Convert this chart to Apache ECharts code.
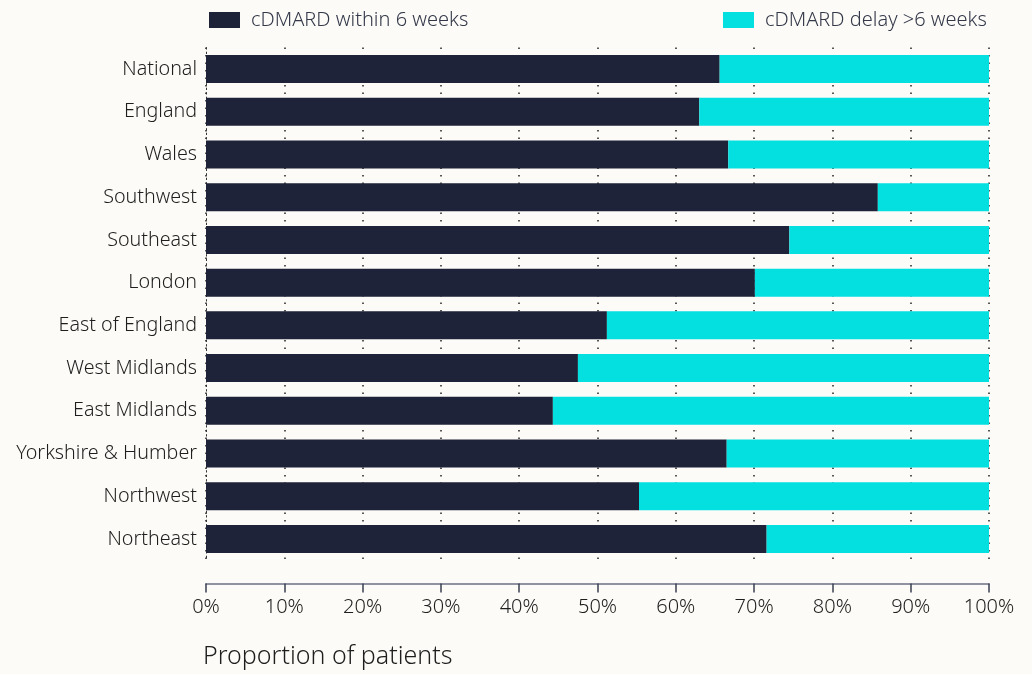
<!DOCTYPE html>
<html>
<head>
<meta charset="utf-8">
<script src="https://cdn.jsdelivr.net/npm/echarts@6/dist/echarts.min.js"></script>
<style>
  html,body{margin:0;padding:0;background:#fcfbf7;}
  #main{width:1032px;height:674px;}
</style>
</head>
<body>
<div id="main"></div>
<script>
// regions, top to bottom
var regions = ['National','England','Wales','Southwest','Southeast','London','East of England',
  'West Midlands','East Midlands','Yorkshire & Humber','Northwest','Northeast'];
// % of patients starting cDMARD within 6 weeks
var within6 = [65.6, 63.0, 66.7, 85.8, 74.5, 70.1, 51.2, 47.5, 44.3, 66.5, 55.3, 71.6];
// % with delay over 6 weeks
var delay6 = [34.4, 37.0, 33.3, 14.2, 25.5, 29.9, 48.8, 52.5, 55.7, 33.5, 44.7, 28.4];
var xTicks = [0,10,20,30,40,50,60,70,80,90,100];

var FONT = 'Noto Sans';
var chart = echarts.init(document.getElementById('main'));

var option = {
  backgroundColor: '#fcfbf7',
  animation: false,
  textStyle: {fontFamily: FONT},
  title: {
    text: 'Proportion of patients',
    left: 198, top: 639,
    textStyle: {fontFamily: FONT, fontSize: 25, fontWeight: 300, color: '#1e1e1e'}
  },
  legend: [
    {
      data: ['cDMARD within 6 weeks'],
      left: 204, top: 5,
      itemWidth: 31, itemHeight: 16, itemGap: 15,
      textStyle: {fontFamily: FONT, fontSize: 20, fontWeight: 300, color: '#333849', padding: [0, 0, 0, 6]},
      icon: 'rect'
    },
    {
      data: ['cDMARD delay >6 weeks'],
      left: 718, top: 5,
      itemWidth: 31, itemHeight: 16, itemGap: 15,
      textStyle: {fontFamily: FONT, fontSize: 20, fontWeight: 300, color: '#333849', padding: [0, 0, 0, 6]},
      icon: 'rect'
    }
  ],
  grid: {left: 206, top: 47.6, width: 783, height: 512.8, containLabel: false},
  xAxis: {
    type: 'value',
    min: 0, max: 100, interval: 10,
    offset: 23,
    axisLine: {show: true, lineStyle: {color: '#6b7185', width: 1.5}},
    axisTick: {show: true, length: 9, lineStyle: {color: '#3a3f52', width: 1.5}},
    axisLabel: {
      fontFamily: FONT, fontSize: 20, fontWeight: 300, color: '#1e1e1e', margin: 14,
      formatter: function (v) { return xTicks.indexOf(v) >= 0 ? v + '%' : ''; }
    },
    splitLine: {show: true, lineStyle: {color: '#222', type: [1.5, 6], width: 1.5}}
  },
  yAxis: {
    type: 'category',
    data: regions,
    inverse: true,
    axisLine: {show: true, lineStyle: {color: '#333', type: [1.5, 3], width: 1}},
    axisTick: {show: false},
    axisLabel: {fontFamily: FONT, fontSize: 19.7, fontWeight: 300, color: '#1e1e1e', margin: 9,
      lineHeight: 20, padding: [4, 0, 0, 0]}
  },
  series: [
    {
      name: 'cDMARD within 6 weeks',
      type: 'bar', stack: 'total', barWidth: 28,
      itemStyle: {color: '#1f2339'},
      data: within6
    },
    {
      name: 'cDMARD delay >6 weeks',
      type: 'bar', stack: 'total', barWidth: 28,
      itemStyle: {color: '#04dfe0'},
      data: delay6
    }
  ]
};
chart.setOption(option);
</script>
</body>
</html>
